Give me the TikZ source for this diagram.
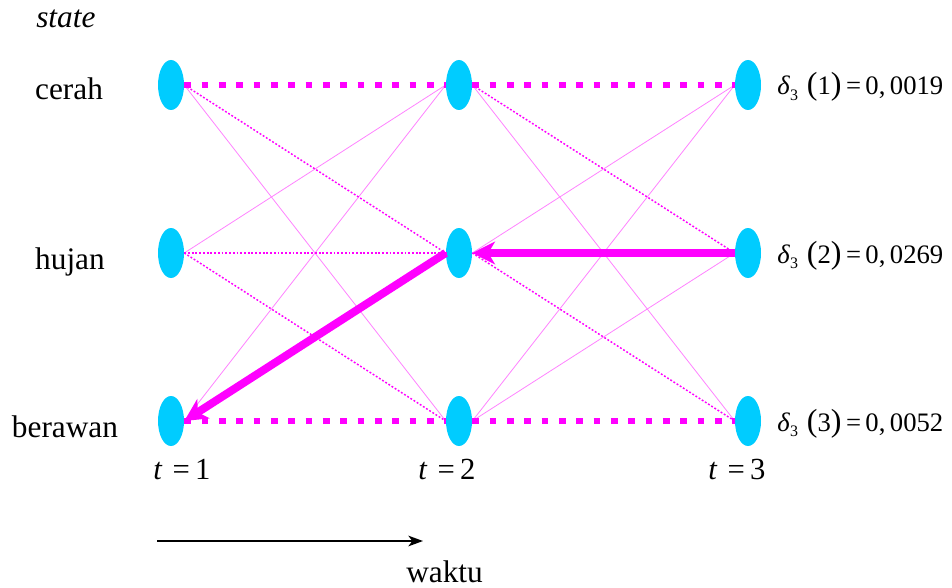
\documentclass[tikz,border=0pt]{standalone}
\usepackage{fontspec}
\setmainfont{Liberation Serif}
\usetikzlibrary{shapes.geometric,arrows.meta}
\definecolor{cyanst}{RGB}{0,204,255}
\definecolor{mag}{RGB}{255,0,255}
\definecolor{lightmag}{RGB}{255,130,255}
\newcommand\dlt[2]{\textit{δ}\raisebox{-0.45ex}{\fontsize{12}{12}\selectfont 3}\,\,{\fontsize{24}{24}\selectfont(}#1{\fontsize{24}{24}\selectfont)}\,=\,0,\,#2}
\begin{document}
\begin{tikzpicture}[x=0.75pt,y=-0.75pt,
  st/.style={ellipse,fill=cyanst,draw=none,minimum width=19.5pt,minimum height=37.5pt,inner sep=0pt},
  thinlink/.style={draw=lightmag,line width=0.6pt},
  dotlink/.style={draw=mag,line width=1.1pt,dash pattern=on 1.4pt off 1.4pt},
  bestdots/.style={draw=mag,line width=4.5pt,dash pattern=on 5pt off 8pt},
  bestarrow/.style={draw=mag,line width=6pt,-{Stealth[length=17pt,width=17pt,inset=5pt]}},
  lbl/.style={font=\fontsize{23.5}{28}\selectfont,inner sep=0pt,anchor=base},
  tlbl/.style={font=\fontsize{23}{27}\selectfont,inner sep=0pt,anchor=base west},
  dlbl/.style={font=\fontsize{20}{24}\selectfont,inner sep=0pt,anchor=base west},
]
\useasboundingbox (0,0) rectangle (952,588);
% states
\node[st] (c1) at (171,85) {};
\node[st] (h1) at (171,253) {};
\node[st] (b1) at (171,421) {};
\node[st] (c2) at (459,85) {};
\node[st] (h2) at (459,253) {};
\node[st] (b2) at (459,421) {};
\node[st] (c3) at (748,85) {};
\node[st] (h3) at (748,253) {};
\node[st] (b3) at (748,421) {};
% thin solid links
\draw[thinlink] (c1.east) -- (b2.west);
\draw[thinlink] (h1.east) -- (c2.west);
\draw[thinlink] (b1.east) -- (c2.west);
\draw[thinlink] (c2.east) -- (b3.west);
\draw[thinlink] (h2.east) -- (c3.west);
\draw[thinlink] (b2.east) -- (c3.west);
\draw[thinlink] (b2.east) -- (h3.west);
% dotted links
\draw[dotlink] (c1.east) -- (h2.west);
\draw[dotlink] (h1.east) -- (h2.west);
\draw[dotlink] (h1.east) -- (b2.west);
\draw[dotlink] (c2.east) -- (h3.west);
\draw[dotlink] (h2.east) -- (b3.west);
% thick dotted links
\draw[bestdots] (c1.east) -- (c2.west);
\draw[bestdots] (c2.east) -- (c3.west);
\draw[bestdots] (b1.east) -- (b2.west);
\draw[bestdots] (b2.east) -- (b3.west);
% backtracking arrows
\draw[bestarrow] (h3.west) -- (h2.east);
\draw[bestarrow] (h2.west) -- (b1.east);
% labels
\node[lbl,anchor=base west] (lstate) at (36,28) {\textit{state}};
\node[lbl] (lc) at (69,100) {cerah};
\node[lbl] (lh) at (70,269) {hujan};
\node[lbl] (lb) at (65,437) {berawan};
\node[tlbl] (t1) at (153,479) {\textit{t}\,\,=\,1};
\node[tlbl] (t2) at (418,479) {\textit{t}\,\,=\,2};
\node[tlbl] (t3) at (708,479) {\textit{t}\,\,=\,3};
\node[dlbl] (d1) at (777,95) {\dlt{1}{0019}};
\node[dlbl] (d2) at (777,263) {\dlt{2}{0269}};
\node[dlbl] (d3) at (777,431) {\dlt{3}{0052}};
% time arrow
\coordinate (ws) at (157,541);
\coordinate (we) at (423,541);
\draw[line width=1.1pt,-{Stealth[length=11pt,width=8pt,inset=3pt]}] (ws) -- (we);
\node[lbl,anchor=base west] (lw) at (406,582) {waktu};
\end{tikzpicture}
\end{document}
